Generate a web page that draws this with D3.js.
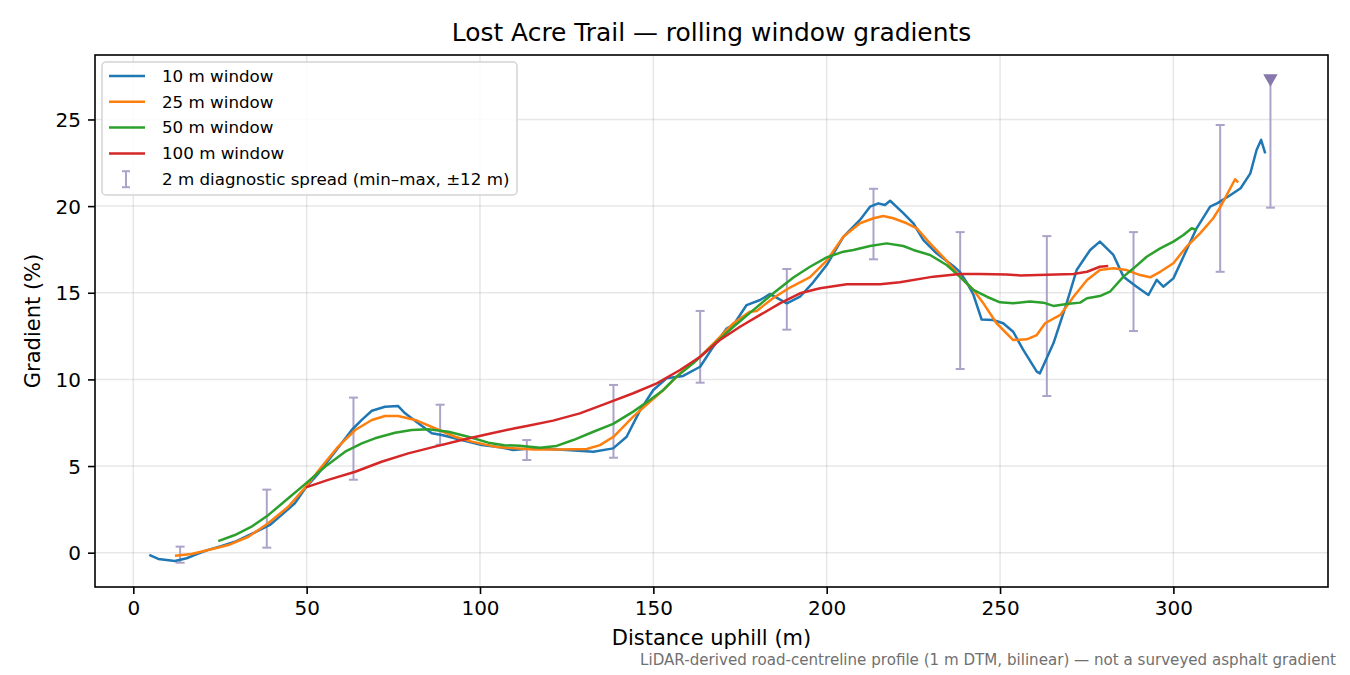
<!DOCTYPE html>
<html>
<head>
<meta charset="utf-8">
<script src="https://cdn.jsdelivr.net/npm/d3@7"></script>
<style>
  body { margin: 0; background: #fff; }
  text { font-family: "DejaVu Sans", sans-serif; }
</style>
</head>
<body>
<svg id="viz" width="1350" height="675"></svg>
<script>
// rolling window gradients
var w10x = [4.6, 7.2, 12, 15.4, 17.8, 21.6, 25.5, 29.3, 34.1, 39.4, 42.8, 46.6, 49.8, 53.4, 58.2, 63, 65.9, 68.8, 72.6, 76.4, 78.4, 82.2, 86.1, 89, 94.7, 100.5, 105.8, 109.6, 115.4, 125, 132.7, 138.4, 142.3, 146.2, 150, 153.8, 158.6, 163.5, 167.3, 171.2, 173.1, 176.9, 180.8, 183.6, 188.5, 192.3, 196.1, 200, 204.8, 209.6, 212.5, 214.9, 216.8, 218.3, 222.1, 225, 227.9, 231.7, 236.5, 238.4, 240.4, 242.3, 244.7, 248, 250.9, 253.8, 256.7, 260.6, 261.5, 265.4, 269.2, 272.1, 276, 278.8, 282.7, 285.6, 289.4, 292.8, 295.2, 297.1, 300, 302.9, 306.7, 310.6, 312.6, 316.5, 319.4, 322.2, 324, 325.3, 326.5]
var w10y = [-0.13, -0.36, -0.48, -0.32, -0.13, 0.16, 0.39, 0.63, 1.08, 1.6, 2.18, 2.85, 3.77, 4.58, 5.83, 7.08, 7.66, 8.19, 8.42, 8.46, 8.04, 7.47, 6.89, 6.79, 6.5, 6.21, 6.08, 5.93, 6.02, 5.93, 5.83, 6.02, 6.69, 8.23, 9.39, 10.06, 10.2, 10.73, 11.89, 12.95, 13.14, 14.29, 14.58, 14.93, 14.39, 14.77, 15.6, 16.6, 18.23, 19.2, 19.97, 20.16, 20.06, 20.31, 19.6, 19.01, 18.04, 17.28, 16.55, 16.2, 15.6, 14.9, 13.45, 13.43, 13.24, 12.75, 11.7, 10.45, 10.35, 12.08, 14.39, 16.31, 17.47, 17.95, 17.18, 15.93, 15.35, 14.87, 15.74, 15.35, 15.83, 17.08, 18.72, 19.97, 20.16, 20.64, 21.03, 21.89, 23.24, 23.82, 23.05]

var w25x = [12, 16.8, 21.6, 27.4, 33.2, 38.9, 44.7, 49.8, 54.3, 59.1, 64, 68.8, 72.6, 76.4, 81.3, 87, 92.8, 97.6, 104.3, 110.1, 115.4, 123, 130.8, 134.6, 138.5, 144.2, 149, 152.9, 157.7, 163.5, 168.3, 173.1, 177.9, 179.8, 184.6, 189.4, 195.2, 200, 204.8, 209.6, 213.5, 216.3, 219.2, 223.1, 226, 229.8, 234.6, 238.4, 242.3, 245.2, 249, 253.8, 257.7, 260.6, 263, 267.4, 271.2, 275.1, 278.8, 282.7, 286.5, 290.4, 293.3, 296.2, 300, 303.8, 307.7, 311.5, 313.6, 317.8, 318.7]
var w25y = [-0.17, -0.08, 0.16, 0.44, 0.92, 1.7, 2.65, 3.81, 4.96, 6.12, 7.08, 7.66, 7.89, 7.89, 7.66, 7.18, 6.69, 6.41, 6.12, 6.02, 5.96, 5.96, 5.98, 6.21, 6.69, 7.85, 8.71, 9.39, 10.35, 11.31, 12.27, 13.24, 13.91, 13.95, 14.7, 15.3, 15.9, 16.85, 18.23, 19.01, 19.3, 19.43, 19.3, 19.01, 18.72, 17.85, 16.85, 15.93, 15.16, 14.39, 13.24, 12.27, 12.31, 12.56, 13.24, 13.72, 14.77, 15.74, 16.31, 16.41, 16.31, 16.02, 15.89, 16.21, 16.7, 17.66, 18.43, 19.3, 19.97, 21.55, 21.37]

var w50x = [24.5, 29.3, 34.1, 39, 44.7, 49.8, 55.3, 61.1, 65.9, 69.7, 75.5, 80.3, 85.1, 90.9, 96.6, 102.4, 107, 111.5, 117.3, 122.1, 126.9, 132.7, 138.4, 144.2, 149, 152.9, 156.7, 161.5, 167.3, 173.1, 178.8, 184.6, 190.4, 195.2, 200, 204.8, 207.7, 212.5, 217.3, 222.1, 225, 229.8, 234.6, 238.4, 242.3, 246.2, 250, 253.8, 258.6, 262.5, 265.4, 269.2, 273.1, 275.1, 278.8, 281.7, 285.6, 288.5, 292.3, 296.2, 300, 302.9, 305.3, 306.7]
var w50y = [0.67, 1.02, 1.5, 2.18, 3.14, 4, 4.96, 5.83, 6.31, 6.6, 6.92, 7.08, 7.12, 6.98, 6.69, 6.35, 6.2, 6.17, 6.06, 6.16, 6.5, 6.98, 7.43, 8.14, 8.81, 9.39, 10.16, 10.93, 11.99, 13.04, 14, 14.97, 15.88, 16.5, 17.04, 17.37, 17.47, 17.7, 17.85, 17.7, 17.47, 17.18, 16.6, 15.93, 15.16, 14.77, 14.45, 14.39, 14.49, 14.43, 14.24, 14.35, 14.43, 14.68, 14.81, 15.06, 15.93, 16.41, 17.08, 17.56, 17.95, 18.33, 18.72, 18.62]

var w100x = [49.8, 56.2, 64, 71.6, 79.3, 87, 94.7, 102.4, 110.1, 113.5, 121.1, 128.8, 136.5, 144.2, 151, 157.7, 163.5, 169.2, 175, 180.8, 186.5, 192.3, 198.1, 205.8, 215.4, 221.1, 230.8, 238.4, 244.2, 251.9, 255.8, 263.5, 271.2, 275.1, 278.8, 281.2]
var w100y = [3.77, 4.2, 4.67, 5.25, 5.73, 6.12, 6.5, 6.85, 7.18, 7.31, 7.62, 8.04, 8.62, 9.2, 9.77, 10.54, 11.31, 12.27, 13.04, 13.72, 14.39, 14.97, 15.26, 15.49, 15.49, 15.6, 15.93, 16.08, 16.08, 16.06, 16, 16.04, 16.08, 16.21, 16.5, 16.54]

// 2 m diagnostic spread (min-max over +-12 m)
var spreadX = [13.5, 38.5, 63.5, 88.5, 113.5, 138.5, 163.5, 188.5, 213.5, 238.5, 263.5, 288.5, 313.5, 328]
var spreadLo = [-0.58, 0.29, 4.21, 6.23, 5.35, 5.48, 9.81, 12.87, 16.93, 10.6, 9.04, 12.79, 16.21, 19.91]
var spreadHi = [0.35, 3.64, 8.95, 8.54, 6.5, 9.68, 13.95, 16.37, 21.0, 18.5, 18.27, 18.5, 24.68, 27.37]

var seriesNames = ["10 m window", "25 m window", "50 m window", "100 m window"]
var seriesColors = ["#1f77b4", "#ff7f0e", "#2ca02c", "#d62728"]
var xTicks = [0, 50, 100, 150, 200, 250, 300]
var yTicks = [0, 5, 10, 15, 20, 25]

var svg = d3.select("#viz"),
    margin = { top: 55, right: 22, bottom: 88, left: 95 },
    width = +svg.attr("width") - margin.left - margin.right,
    height = +svg.attr("height") - margin.top - margin.bottom;

var x = d3.scaleLinear().domain([-11.05, 344.6]).range([0, width]),
    y = d3.scaleLinear().domain([-1.98, 28.72]).range([height, 0]);

var g = svg.append("g")
    .attr("transform", "translate(" + margin.left + "," + margin.top + ")");

// grid
g.append("g").selectAll("line").data(xTicks).enter().append("line")
    .attr("x1", function(d) { return x(d); }).attr("x2", function(d) { return x(d); })
    .attr("y1", 0).attr("y2", height)
    .attr("stroke", "#b0b0b0").attr("stroke-opacity", 0.3).attr("stroke-width", 1.5);
g.append("g").selectAll("line").data(yTicks).enter().append("line")
    .attr("y1", function(d) { return y(d); }).attr("y2", function(d) { return y(d); })
    .attr("x1", 0).attr("x2", width)
    .attr("stroke", "#b0b0b0").attr("stroke-opacity", 0.3).attr("stroke-width", 1.5);

// error bars
var barColor = "#ada3c9";
var barW = 2;
var eb = g.append("g");
for (var i = 0; i < spreadX.length; i++) {
    var cx = x(spreadX[i]);
    eb.append("line")
        .attr("x1", cx).attr("x2", cx)
        .attr("y1", y(spreadLo[i])).attr("y2", y(spreadHi[i]))
        .attr("stroke", barColor).attr("stroke-width", barW);
    eb.append("line")
        .attr("x1", cx - 4.5).attr("x2", cx + 4.5)
        .attr("y1", y(spreadLo[i])).attr("y2", y(spreadLo[i]))
        .attr("stroke", barColor).attr("stroke-width", barW);
    if (i < spreadX.length - 1) {
        eb.append("line")
            .attr("x1", cx - 4.5).attr("x2", cx + 4.5)
            .attr("y1", y(spreadHi[i])).attr("y2", y(spreadHi[i]))
            .attr("stroke", barColor).attr("stroke-width", barW);
    }
}
// last window runs off the end of the trail: flag it
var lastI = spreadX.length - 1;
eb.append("path")
    .attr("d", d3.symbol().type(d3.symbolTriangle).size(90))
    .attr("transform", "translate(" + x(spreadX[lastI]) + "," + y(spreadHi[lastI]) + ") rotate(180)")
    .attr("fill", "#8678ad");

// lines
var allX = [w10x, w25x, w50x, w100x],
    allY = [w10y, w25y, w50y, w100y];

var line = d3.line()
    .x(function(d) { return x(d[0]); })
    .y(function(d) { return y(d[1]); });

for (var s = 0; s < allX.length; s++) {
    var pts = d3.zip(allX[s], allY[s]);
    g.append("path")
        .datum(pts)
        .attr("fill", "none")
        .attr("stroke", seriesColors[s])
        .attr("stroke-width", 2.5)
        .attr("stroke-linejoin", "round")
        .attr("d", line);
}

// axes
var xAxis = g.append("g")
    .attr("transform", "translate(0," + height + ")")
    .call(d3.axisBottom(x).tickValues(xTicks).tickSize(7).tickPadding(7));
var yAxis = g.append("g")
    .call(d3.axisLeft(y).tickValues(yTicks).tickSize(7).tickPadding(7));
[xAxis, yAxis].forEach(function(a) {
    a.select(".domain").remove();
    a.selectAll(".tick line").attr("stroke", "#000").attr("stroke-width", 1.6);
    a.selectAll(".tick text").attr("font-size", 20).attr("fill", "#000")
        .style("font-family", "DejaVu Sans");
});
yAxis.selectAll(".tick text").attr("dy", "0.35em");

// frame
g.append("rect")
    .attr("x", 0).attr("y", 0).attr("width", width).attr("height", height)
    .attr("fill", "none").attr("stroke", "#000").attr("stroke-width", 1.6);

// title and labels
svg.append("text")
    .attr("x", margin.left + width / 2).attr("y", 41)
    .attr("text-anchor", "middle").attr("font-size", 24.9)
    .text("Lost Acre Trail \u2014 rolling window gradients");

svg.append("text")
    .attr("x", margin.left + width / 2).attr("y", 645)
    .attr("text-anchor", "middle").attr("font-size", 21)
    .text("Distance uphill (m)");

svg.append("text")
    .attr("transform", "translate(40," + (margin.top + height / 2) + ") rotate(-90)")
    .attr("text-anchor", "middle").attr("font-size", 21)
    .text("Gradient (%)");

svg.append("text")
    .attr("x", 1336).attr("y", 665)
    .attr("text-anchor", "end").attr("font-size", 15.1).attr("fill", "#707070")
    .text("LiDAR-derived road-centreline profile (1 m DTM, bilinear) \u2014 not a surveyed asphalt gradient");

// legend
var lg = svg.append("g").attr("transform", "translate(102,62)");
lg.append("rect")
    .attr("width", 415).attr("height", 133).attr("rx", 4)
    .attr("fill", "#fff").attr("fill-opacity", 0.85)
    .attr("stroke", "#d4d4d4").attr("stroke-width", 1.5);

var rowY = function(k) { return 14 + k * 25.8; };
for (var k = 0; k < seriesNames.length; k++) {
    lg.append("line")
        .attr("x1", 7).attr("x2", 43)
        .attr("y1", rowY(k)).attr("y2", rowY(k))
        .attr("stroke", seriesColors[k]).attr("stroke-width", 2.5);
    lg.append("text")
        .attr("x", 60).attr("y", rowY(k)).attr("dy", "0.35em")
        .attr("font-size", 16.7)
        .text(seriesNames[k]);
}
var ey = rowY(4);
lg.append("line").attr("x1", 24).attr("x2", 24).attr("y1", ey - 8).attr("y2", ey + 8)
    .attr("stroke", barColor).attr("stroke-width", barW);
lg.append("line").attr("x1", 20).attr("x2", 28).attr("y1", ey - 8).attr("y2", ey - 8)
    .attr("stroke", barColor).attr("stroke-width", barW);
lg.append("line").attr("x1", 20).attr("x2", 28).attr("y1", ey + 8).attr("y2", ey + 8)
    .attr("stroke", barColor).attr("stroke-width", barW);
lg.append("text")
    .attr("x", 60).attr("y", ey).attr("dy", "0.35em")
    .attr("font-size", 16.7)
    .text("2 m diagnostic spread (min\u2013max, \u00b112 m)");
</script>
</body>
</html>
